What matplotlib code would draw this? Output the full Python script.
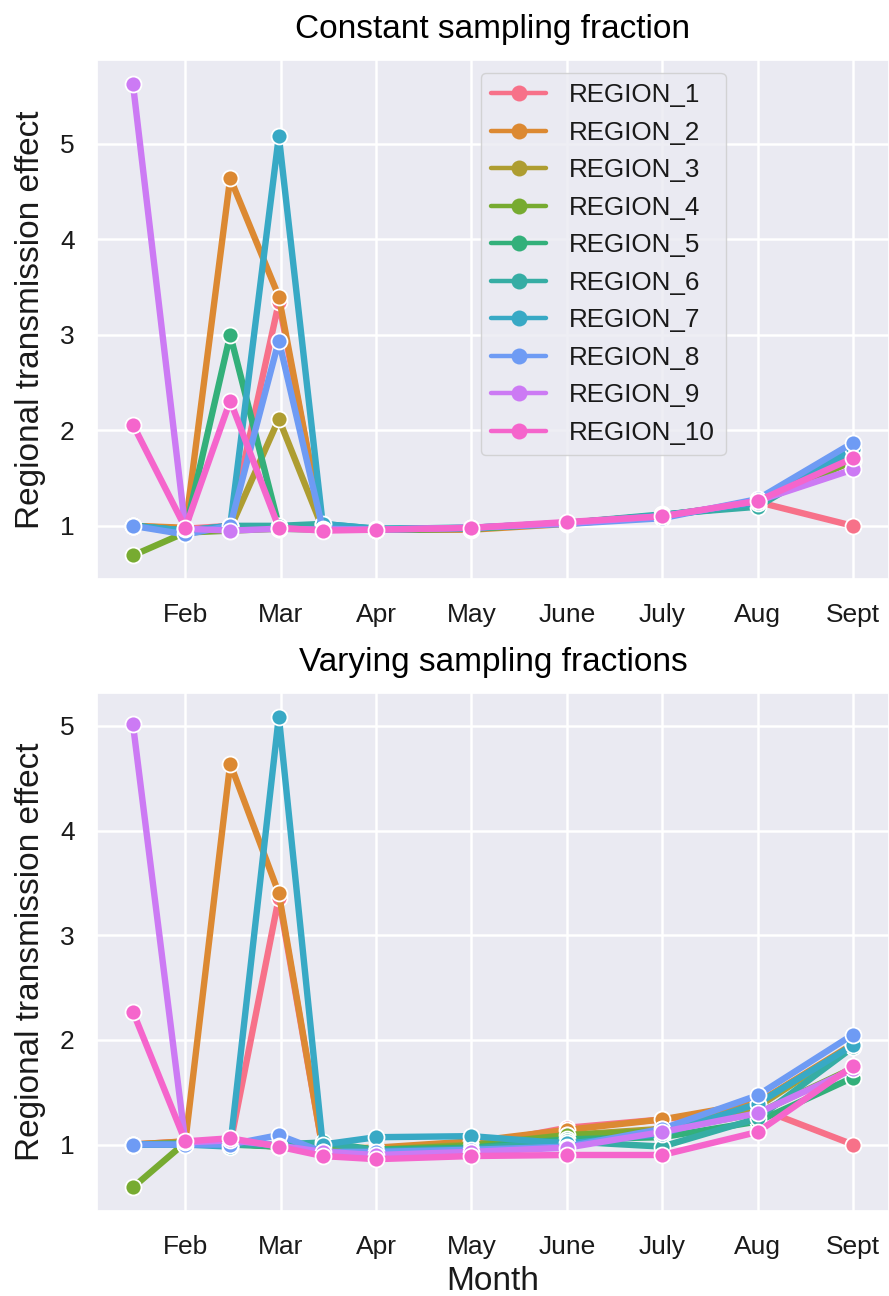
import numpy as np
import matplotlib
matplotlib.use("Agg")
import matplotlib.pyplot as plt
import seaborn as sns

# month positions (Feb = 1 ... Sept = 8), early points are half-month steps
months = [0.45, 1.0, 1.47, 1.98, 2.44, 3.0, 4.0, 5.0, 6.0, 7.0, 8.0]
tick_pos = [1, 2, 3, 4, 5, 6, 7, 8]
tick_labels = ["Feb", "Mar", "Apr", "May", "June", "July", "Aug", "Sept"]
regions = ["REGION_%d" % i for i in range(1, 11)]

# regional transmission effect, constant sampling fraction
constant = {
    "REGION_1":  [1.00, 0.97, 1.00, 3.34, 0.97, 0.96, 0.97, 1.03, 1.10, 1.25, 1.00],
    "REGION_2":  [1.00, 0.98, 4.64, 3.40, 0.96, 0.96, 0.96, 1.02, 1.10, 1.25, 1.68],
    "REGION_3":  [1.00, 0.95, 0.97, 2.12, 0.97, 0.96, 0.97, 1.03, 1.10, 1.25, 1.70],
    "REGION_4":  [0.69, 0.93, 0.95, 0.97, 0.96, 0.96, 0.97, 1.03, 1.11, 1.24, 1.68],
    "REGION_5":  [1.00, 0.95, 3.00, 1.00, 0.97, 0.96, 0.97, 1.03, 1.11, 1.22, 1.76],
    "REGION_6":  [1.00, 0.95, 1.00, 1.00, 1.02, 0.97, 0.98, 1.03, 1.12, 1.20, 1.79],
    "REGION_7":  [1.00, 0.95, 1.00, 5.08, 1.02, 0.97, 0.98, 1.03, 1.11, 1.24, 1.80],
    "REGION_8":  [1.00, 0.91, 1.00, 2.94, 0.97, 0.96, 0.98, 1.02, 1.08, 1.28, 1.87],
    "REGION_9":  [5.63, 0.97, 0.95, 0.97, 0.96, 0.96, 0.98, 1.03, 1.10, 1.26, 1.59],
    "REGION_10": [2.06, 0.98, 2.31, 0.98, 0.95, 0.96, 0.98, 1.04, 1.10, 1.26, 1.71],
}

# regional transmission effect, varying sampling fractions
varying = {
    "REGION_1":  [1.00, 1.03, 1.00, 3.36, 0.96, 0.96, 0.99, 1.16, 1.24, 1.35, 1.00],
    "REGION_2":  [1.00, 1.03, 4.64, 3.40, 0.96, 0.97, 1.03, 1.14, 1.24, 1.40, 1.96],
    "REGION_3":  [1.00, 1.02, 1.01, 0.98, 0.95, 0.95, 1.00, 1.09, 1.15, 1.36, 1.95],
    "REGION_4":  [0.59, 1.02, 1.01, 0.98, 0.96, 0.95, 0.99, 1.09, 1.13, 1.30, 1.73],
    "REGION_5":  [1.00, 1.01, 1.00, 0.98, 1.02, 0.95, 0.97, 1.05, 1.07, 1.22, 1.64],
    "REGION_6":  [1.00, 1.00, 1.00, 1.00, 1.02, 0.94, 0.96, 1.03, 0.98, 1.25, 1.93],
    "REGION_7":  [1.00, 1.00, 0.98, 5.09, 1.00, 1.07, 1.08, 1.01, 1.10, 1.39, 1.95],
    "REGION_8":  [1.00, 1.00, 1.00, 1.09, 0.93, 0.93, 0.95, 0.98, 1.15, 1.47, 2.05],
    "REGION_9":  [5.02, 1.02, 1.04, 0.99, 0.93, 0.90, 0.93, 0.97, 1.12, 1.30, 1.72],
    "REGION_10": [2.27, 1.03, 1.06, 0.98, 0.89, 0.86, 0.89, 0.90, 0.90, 1.12, 1.75],
}

sns.set_theme(style="darkgrid")
plt.rcParams["font.family"] = ["Liberation Sans", "DejaVu Sans"]
plt.rcParams["grid.linewidth"] = 1.8

colors = sns.color_palette("husl", len(regions))

fig = plt.figure(figsize=(8.89, 12.96), dpi=100)
ax_top = fig.add_axes([0.109, 0.5532, 0.891, 0.4005])
ax_bot = fig.add_axes([0.109, 0.0656, 0.891, 0.3997])


def draw_panel(ax, data, title):
    for name, col in zip(regions, colors):
        ax.plot(months, data[name], color=col, lw=4.6, marker="o", ms=11.5,
                mec="white", mew=1.3, label=name)
    ax.set_xticks(tick_pos)
    ax.set_xticklabels(tick_labels)
    ax.set_yticks([1, 2, 3, 4, 5])
    ax.tick_params(axis="x", labelsize=19, pad=11, labelcolor="0.1")
    ax.tick_params(axis="y", labelsize=19, pad=10, labelcolor="0.1")
    ax.set_ylabel("Regional transmission effect", fontsize=24, color="0.1",
                  labelpad=10)
    ax.set_title(title, fontsize=24, pad=16, color="black")


draw_panel(ax_top, constant, "Constant sampling fraction")
draw_panel(ax_bot, varying, "Varying sampling fractions")
ax_bot.set_xlabel("Month", fontsize=24, color="0.1", labelpad=5)

leg = ax_top.legend(loc="upper left", bbox_to_anchor=(0.485, 0.975), fontsize=18.7,
                    labelspacing=0.52, handlelength=2.1, handletextpad=0.9,
                    borderpad=0.4, borderaxespad=0, markerscale=1.0)
for text in leg.get_texts():
    text.set_color("0.1")
for line in leg.get_lines():
    line.set_linewidth(3.2)
    line.set_markeredgewidth(0)

fig.savefig("out.png", dpi=100)
